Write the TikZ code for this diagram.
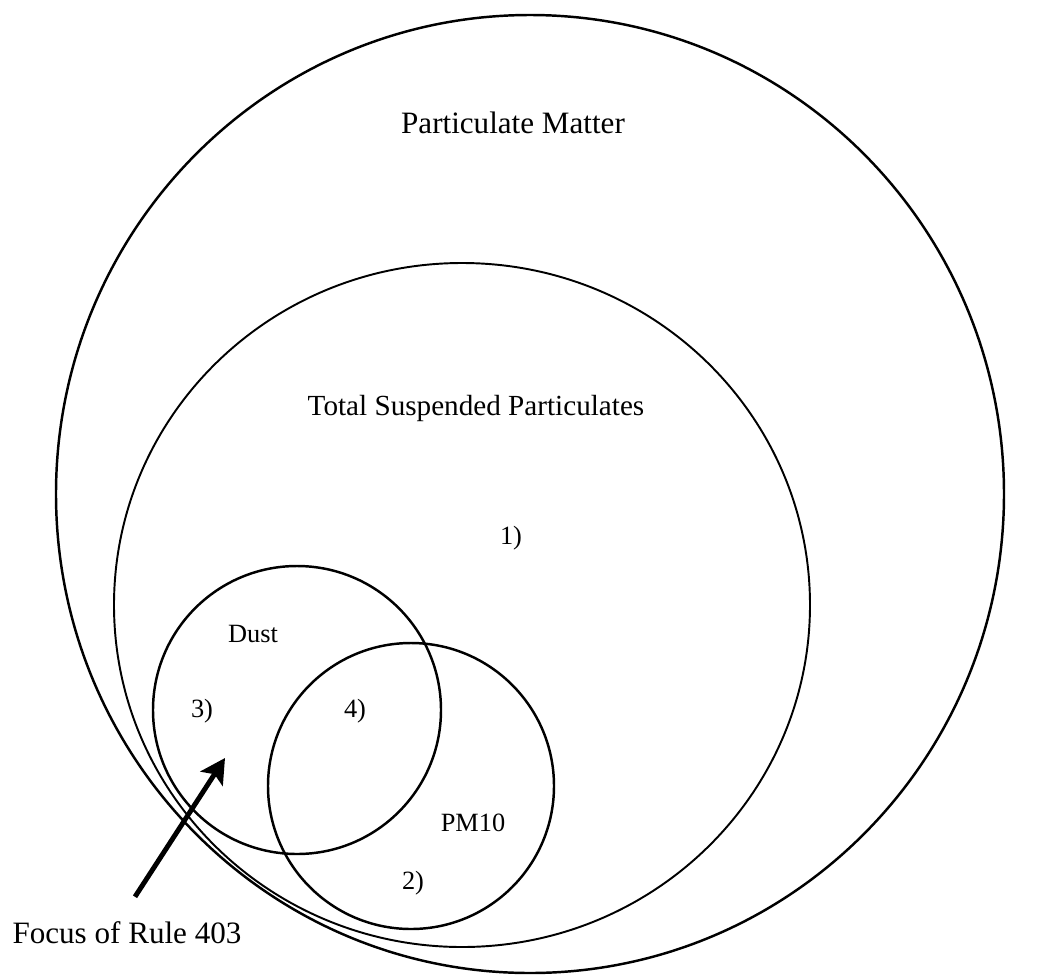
\documentclass[tikz,border=0pt]{standalone}
\usepackage{fontspec}
\setmainfont{Liberation Serif}
\usepackage{tikz}
\usetikzlibrary{arrows.meta,positioning,calc}

\begin{document}
\begin{tikzpicture}
[x=0.02cm,y=-0.02cm,inner sep=0pt,
 bigtext/.style={anchor=base,font=\fontsize{17.7pt}{21pt}\selectfont},
 midtext/.style={anchor=base,font=\fontsize{16.6pt}{20pt}\selectfont},
 smalltext/.style={anchor=base,font=\fontsize{15pt}{18pt}\selectfont}]
\useasboundingbox (0,0) rectangle (1049,975);
% the four sets
\draw[line width=1.4pt] (530,494) ellipse (474 and 479);
\draw[line width=1.1pt] (462,605) ellipse (348 and 342);
\draw[line width=1.4pt] (297,710) circle (144);
\draw[line width=1.4pt] (411,786) circle (143);
% labels
\draw (513,133) node[bigtext] (pm) {Particulate Matter};
\draw (476,415) node[midtext] (tsp) {Total Suspended Particulates};
\draw (511,544) node[smalltext] (one) {1)};
\draw (253,642) node[smalltext] (dust) {Dust};
\draw (202,717) node[smalltext] (three) {3)};
\draw (355,717) node[smalltext] (four) {4)};
\draw (473,831) node[smalltext] (pmten) {PM10};
\draw (413,889) node[smalltext] (two) {2)};
\draw (127,943) node[bigtext] (focus) {Focus of Rule 403};
\coordinate (tip) at (225,758);
\draw[-{Stealth[length=14pt,width=15pt,inset=3pt]},line width=2.8pt]($(focus.north)+(8,-24)$)--(tip);
\end{tikzpicture}
\end{document}
